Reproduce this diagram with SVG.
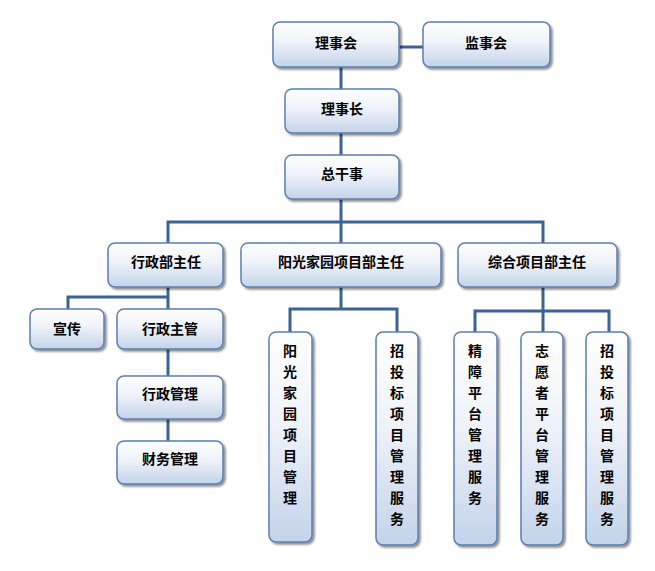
<svg xmlns="http://www.w3.org/2000/svg" width="655" height="571" viewBox="0 0 655 571">
<defs>
<linearGradient id="g" x1="0" y1="0" x2="0" y2="1">
<stop offset="0" stop-color="#ffffff"/>
<stop offset="0.45" stop-color="#eef2f9"/>
<stop offset="1" stop-color="#c3d3ea"/>
</linearGradient>
<filter id="sh" x="-20%" y="-20%" width="140%" height="140%">
<feGaussianBlur in="SourceAlpha" stdDeviation="1.2"/>
<feOffset dx="1.5" dy="2" result="b"/>
<feComponentTransfer><feFuncA type="linear" slope="0.45"/></feComponentTransfer>
<feMerge><feMergeNode/><feMergeNode in="SourceGraphic"/></feMerge>
</filter>
</defs>
<style>
.box{fill:url(#g);stroke:#5b7fae;stroke-width:1.5;filter:url(#sh)}
.t{font-family:"Noto Sans CJK SC",sans-serif;font-size:14px;font-weight:bold;fill:#000;text-anchor:middle;dominant-baseline:central}
.c{fill:none;stroke:#3b6395;stroke-width:3}
</style>
<rect width="655" height="571" fill="#fff"/>
<g id="connectors">
<path class="c" d="M399,47H423"/>
<path class="c" d="M341,67V89M341,133V155M341,199V222"/>
<path class="c" d="M168,243V222H543V243M341,222V243"/>
<path class="c" d="M168,287V309M68,309V297H168"/>
<path class="c" d="M168,349V376M168,419V441"/>
<path class="c" d="M341,287V309M290,332V309H397V332"/>
<path class="c" d="M543,287V332M475,332V311H609V332"/>
</g>
<g id="n1"><rect class="box" x="273" y="22" width="126" height="45" rx="7"/><text class="t" x="336" y="42">理事会</text></g>
<g id="n2"><rect class="box" x="423" y="22" width="127" height="45" rx="7"/><text class="t" x="486" y="42">监事会</text></g>
<g id="n3"><rect class="box" x="285" y="89" width="114" height="44" rx="7"/><text class="t" x="342" y="108">理事长</text></g>
<g id="n4"><rect class="box" x="285" y="155" width="114" height="44" rx="7"/><text class="t" x="342" y="173">总干事</text></g>
<g id="n5"><rect class="box" x="108" y="243" width="115" height="44" rx="7"/><text class="t" x="166" y="261">行政部主任</text></g>
<g id="n6"><rect class="box" x="241" y="243" width="200" height="44" rx="7"/><text class="t" x="341" y="261">阳光家园项目部主任</text></g>
<g id="n7"><rect class="box" x="458" y="243" width="159" height="44" rx="7"/><text class="t" x="537" y="261">综合项目部主任</text></g>
<g id="n8"><rect class="box" x="30" y="309" width="74" height="40" rx="7"/><text class="t" x="67" y="328">宣传</text></g>
<g id="n9"><rect class="box" x="117" y="309" width="106" height="40" rx="7"/><text class="t" x="170" y="328">行政主管</text></g>
<g id="n10"><rect class="box" x="117" y="376" width="106" height="43" rx="7"/><text class="t" x="170" y="393">行政管理</text></g>
<g id="n11"><rect class="box" x="117" y="441" width="106" height="43" rx="7"/><text class="t" x="170" y="458">财务管理</text></g>
<g id="n12"><rect class="box" x="269" y="332" width="43" height="210" rx="7"/>
<text class="t" x="290"><tspan x="290" y="350">阳</tspan><tspan x="290" y="371">光</tspan><tspan x="290" y="392">家</tspan><tspan x="290" y="413">园</tspan><tspan x="290" y="434">项</tspan><tspan x="290" y="455">目</tspan><tspan x="290" y="476">管</tspan><tspan x="290" y="497">理</tspan></text></g>
<g id="n13"><rect class="box" x="376" y="332" width="42" height="213" rx="7"/>
<text class="t" x="397"><tspan x="397" y="350">招</tspan><tspan x="397" y="371">投</tspan><tspan x="397" y="392">标</tspan><tspan x="397" y="413">项</tspan><tspan x="397" y="434">目</tspan><tspan x="397" y="455">管</tspan><tspan x="397" y="476">理</tspan><tspan x="397" y="497">服</tspan><tspan x="397" y="518">务</tspan></text></g>
<g id="n14"><rect class="box" x="454" y="332" width="43" height="213" rx="7"/>
<text class="t" x="475"><tspan x="475" y="350">精</tspan><tspan x="475" y="371">障</tspan><tspan x="475" y="392">平</tspan><tspan x="475" y="413">台</tspan><tspan x="475" y="434">管</tspan><tspan x="475" y="455">理</tspan><tspan x="475" y="476">服</tspan><tspan x="475" y="497">务</tspan></text></g>
<g id="n15"><rect class="box" x="521" y="332" width="42" height="213" rx="7"/>
<text class="t" x="542"><tspan x="542" y="350">志</tspan><tspan x="542" y="371">愿</tspan><tspan x="542" y="392">者</tspan><tspan x="542" y="413">平</tspan><tspan x="542" y="434">台</tspan><tspan x="542" y="455">管</tspan><tspan x="542" y="476">理</tspan><tspan x="542" y="497">服</tspan><tspan x="542" y="518">务</tspan></text></g>
<g id="n16"><rect class="box" x="586" y="332" width="42" height="213" rx="7"/>
<text class="t" x="607"><tspan x="607" y="350">招</tspan><tspan x="607" y="371">投</tspan><tspan x="607" y="392">标</tspan><tspan x="607" y="413">项</tspan><tspan x="607" y="434">目</tspan><tspan x="607" y="455">管</tspan><tspan x="607" y="476">理</tspan><tspan x="607" y="497">服</tspan><tspan x="607" y="518">务</tspan></text></g>
</svg>
